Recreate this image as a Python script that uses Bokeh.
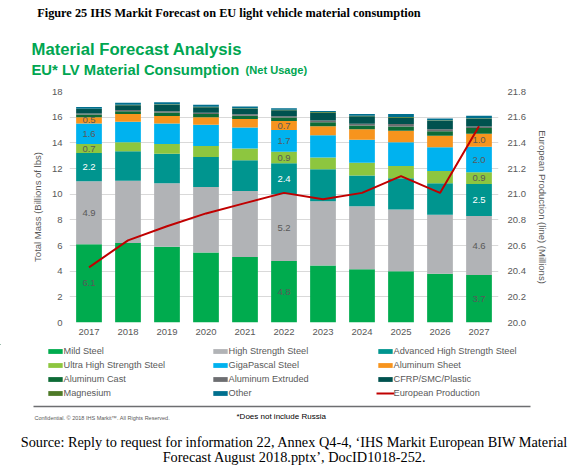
from bokeh.plotting import figure
from bokeh.layouts import column
from bokeh.models import (Range1d, LinearAxis, FixedTicker, Legend, LegendItem,
                          ColumnDataSource, NumeralTickFormatter, FactorRange)
from bokeh.core.properties import value
from bokeh.embed import file_html
from bokeh.resources import INLINE

# ---------------- data ----------------
years = ["2017", "2018", "2019", "2020", "2021", "2022", "2023", "2024", "2025", "2026", "2027"]
mild_steel = [6.1, 6.2, 5.9, 5.45, 5.1, 4.8, 4.45, 4.15, 4.0, 3.8, 3.7]
high_strength = [4.9, 4.85, 4.95, 5.1, 5.15, 5.2, 5.0, 4.9, 4.8, 4.6, 4.6]
adv_high_strength = [2.2, 2.3, 2.3, 2.35, 2.4, 2.4, 2.5, 2.4, 2.45, 2.45, 2.5]
ultra_high_strength = [0.7, 0.7, 0.75, 0.85, 0.9, 0.9, 0.9, 1.0, 0.95, 0.95, 0.9]
gigapascal = [1.6, 1.6, 1.6, 1.65, 1.65, 1.7, 1.75, 1.8, 1.85, 1.85, 2.0]
aluminum_sheet = [0.5, 0.6, 0.6, 0.6, 0.65, 0.7, 0.7, 0.8, 0.9, 0.9, 1.0]
aluminum_cast = [0.2, 0.21, 0.26, 0.25, 0.27, 0.28, 0.3, 0.3, 0.33, 0.36, 0.45]
aluminum_extruded = [0.08, 0.1, 0.1, 0.1, 0.1, 0.1, 0.15, 0.13, 0.18, 0.15, 0.12]
cfrp_smc_plastic = [0.35, 0.37, 0.5, 0.42, 0.44, 0.45, 0.6, 0.6, 0.5, 0.66, 0.6]
magnesium = [0.03, 0.03, 0.04, 0.04, 0.04, 0.04, 0.05, 0.04, 0.05, 0.04, 0.05]
other = [0.14, 0.16, 0.16, 0.15, 0.14, 0.13, 0.08, 0.13, 0.23, 0.13, 0.19]
european_production = [20.43, 20.64, 20.75, 20.85, 20.93, 21.01, 20.96, 21.01, 21.14, 21.01, 21.53]

series_names = ["Mild Steel", "High Strength Steel", "Advanced High Strength Steel",
                "Ultra High Strength Steel", "GigaPascal Steel", "Aluminum Sheet",
                "Aluminum Cast", "Aluminum Extruded", "CFRP/SMC/Plastic",
                "Magnesium", "Other"]
series_values = [mild_steel, high_strength, adv_high_strength, ultra_high_strength,
                 gigapascal, aluminum_sheet, aluminum_cast, aluminum_extruded,
                 cfrp_smc_plastic, magnesium, other]
series_colors = ["#00ab4e", "#b1b3b6", "#00958f", "#8dc63f", "#00b2ef", "#f7941d",
                 "#0d6b36", "#6d6e71", "#00524f", "#4e7a27", "#006f8e"]
line_name = "European Production"
line_color = "#c00000"
labelled_years = ["2017", "2022", "2027"]
labelled_series = 6
left_ticks = [0, 2, 4, 6, 8, 10, 12, 14, 16, 18]
right_ticks = [20.0, 20.2, 20.4, 20.6, 20.8, 21.0, 21.2, 21.4, 21.6, 21.8]

caption = "Figure 25 IHS Markit Forecast on EU light vehicle material consumption"
title = "Material Forecast Analysis"
subtitle = "EU* LV Material Consumption"
subtitle_note = "(Net Usage)"
confidential = "Confidential. \u00a9 2018 IHS Markit\u2122. All Rights Reserved."
russia_note = "*Does not include Russia"
source_lines = ["Source: Reply to request for information 22, Annex Q4-4, \u2018IHS Markit European BIW Material",
                "Forecast August 2018.pptx\u2019, DocID1018-252."]

# ---------------- layout constants (page pixels) ----------------
PAGE_W = 588
HEADER_H = 84
MAIN_TOP, MAIN_BOTTOM = 84, 344
FOOTER_TOP, FOOTER_BOTTOM = 344, 468
FRAME_L, FRAME_R, FRAME_T, FRAME_B = 69, 498, 91, 322

GRAY = "#595959"
GREEN = "#00a651"
SANS = "Liberation Sans"
SERIF = "Liberation Serif"


def blank_panel(top, bottom):
    f = figure(width=PAGE_W, height=bottom - top, x_range=Range1d(0, PAGE_W),
               y_range=Range1d(bottom, top), output_backend="svg", toolbar_location=None,
               x_axis_type=None, y_axis_type=None, frame_align=False,
               min_border_left=0, min_border_right=0, min_border_top=0, min_border_bottom=0)
    f.min_border = 0
    f.outline_line_color = None
    f.grid.visible = False
    f.background_fill_color = "white"
    f.border_fill_color = "white"
    return f


def put_text(f, x, y, text, size, color="black", font=SANS, style="normal", align="left"):
    f.text(x=[x], y=[y], text=[text], text_font=value(font), text_font_size=size,
           text_font_style=style, text_color=color, text_align=align,
           text_baseline="alphabetic")


# ---------------- header ----------------
header = blank_panel(0, HEADER_H)
put_text(header, 36.7, 12.2, caption, "12.3px", font=SERIF, style="bold")
put_text(header, 31, 48.5, title, "16.7px", color=GREEN, style="bold")
put_text(header, 31, 69, subtitle, "14.8px", color=GREEN, style="bold")
put_text(header, 245, 69, subtitle_note, "11.1px", color=GREEN, style="bold")

# ---------------- main chart ----------------
keys = ["s%d" % i for i in range(len(series_values))]
data = {"year": years, "production": european_production}
for k, v in zip(keys, series_values):
    data[k] = v
src = ColumnDataSource(data)

p = figure(x_range=FactorRange(*years), y_range=Range1d(0, 18), width=PAGE_W,
           height=MAIN_BOTTOM - MAIN_TOP, output_backend="svg", toolbar_location=None,
           frame_align=False,
           min_border_left=FRAME_L, min_border_right=PAGE_W - FRAME_R,
           min_border_top=FRAME_T - MAIN_TOP, min_border_bottom=MAIN_BOTTOM - FRAME_B)
p.outline_line_color = None
p.background_fill_color = "white"
p.border_fill_color = "white"
p.extra_y_ranges = {"prod": Range1d(20, 21.8)}

bars = p.vbar_stack(keys, x="year", width=0.66, color=series_colors, source=src,
                    line_color=None)
p.line(x="year", y="production", y_range_name="prod", line_color=line_color,
       line_width=2, source=src)

lx, ly, lt, lc = [], [], [], []
for yr in labelled_years:
    i = years.index(yr)
    base = 0.0
    for s in range(labelled_series):
        v = series_values[s][i]
        lx.append(yr)
        ly.append(base + v / 2.0)
        lt.append("%.1f" % v)
        lc.append("white" if s == 2 else GRAY)
        base += v
lab_src = ColumnDataSource(dict(x=lx, y=ly, t=lt, c=lc))
p.text(x="x", y="y", text="t", text_color="c", source=lab_src, text_align="center",
       text_baseline="middle", text_font=value(SANS), text_font_size="9.5px")


def style_axis(ax):
    ax.axis_line_color = None
    ax.major_tick_line_color = None
    ax.minor_tick_line_color = None
    ax.major_tick_out = 0
    ax.major_tick_in = 0
    ax.major_label_text_font = SANS
    ax.major_label_text_font_size = "9.5px"
    ax.major_label_text_color = GRAY
    ax.axis_label_text_font = SANS
    ax.axis_label_text_font_size = "9.5px"
    ax.axis_label_text_font_style = "normal"
    ax.axis_label_text_color = GRAY


yax = p.yaxis[0]
yax.ticker = FixedTicker(ticks=left_ticks)
yax.axis_label = "Total Mass (Billions of lbs)"
style_axis(yax)
yax.major_label_standoff = 7
yax.axis_label_standoff = 6

rax = LinearAxis(y_range_name="prod", ticker=FixedTicker(ticks=right_ticks),
                 formatter=NumeralTickFormatter(format="0.0"),
                 axis_label="European Production (line) (Millions)")
style_axis(rax)
rax.major_label_standoff = 9
rax.axis_label_standoff = 8
p.add_layout(rax, "right")

xax = p.xaxis[0]
style_axis(xax)
xax.major_label_standoff = 6

p.xgrid.grid_line_color = None
p.ygrid.grid_line_color = "#d9d9d9"
p.ygrid.ticker = FixedTicker(ticks=left_ticks)

# ---------------- footer (legend + notes) ----------------
footer = blank_panel(FOOTER_TOP, FOOTER_BOTTOM)
# off-canvas stand-ins that only carry the legend swatch styles
legend_renderers = [footer.vbar(x=[-100], top=[-100], bottom=[-110], width=1, color=c,
                                line_color=None)
                    for c in series_colors]
legend_renderers.append(footer.line(x=[-120, -110], y=[-100, -100], line_color=line_color,
                                    line_width=2))
items = [LegendItem(label=n, renderers=[r])
         for n, r in zip(series_names + [line_name], legend_renderers)]
legend = Legend(items=items, location=(45.5, FOOTER_BOTTOM - 399.4), orientation="horizontal",
                ncols=3, glyph_width=18, glyph_height=6, label_height=12, label_width=145,
                label_standoff=0, spacing=2, padding=0, margin=0,
                border_line_color=None, background_fill_alpha=0,
                label_text_font=SANS, label_text_font_size="9.2px",
                label_text_color=GRAY)
footer.add_layout(legend)

footer.segment(x0=[33], y0=[406], x1=[530], y1=[406], line_color="#6d6e71", line_width=1.5)
put_text(footer, 34, 417, confidential, "5.5px", color=GRAY)
put_text(footer, 236, 416, russia_note, "8px")
put_text(footer, 294, 441.5, source_lines[0], "14.3px", font=SERIF, align="center")
put_text(footer, 294, 456, source_lines[1], "14.3px", font=SERIF, align="center")

layout = column(header, p, footer, spacing=0)
open("out.html", "w").write(file_html(layout, INLINE))
